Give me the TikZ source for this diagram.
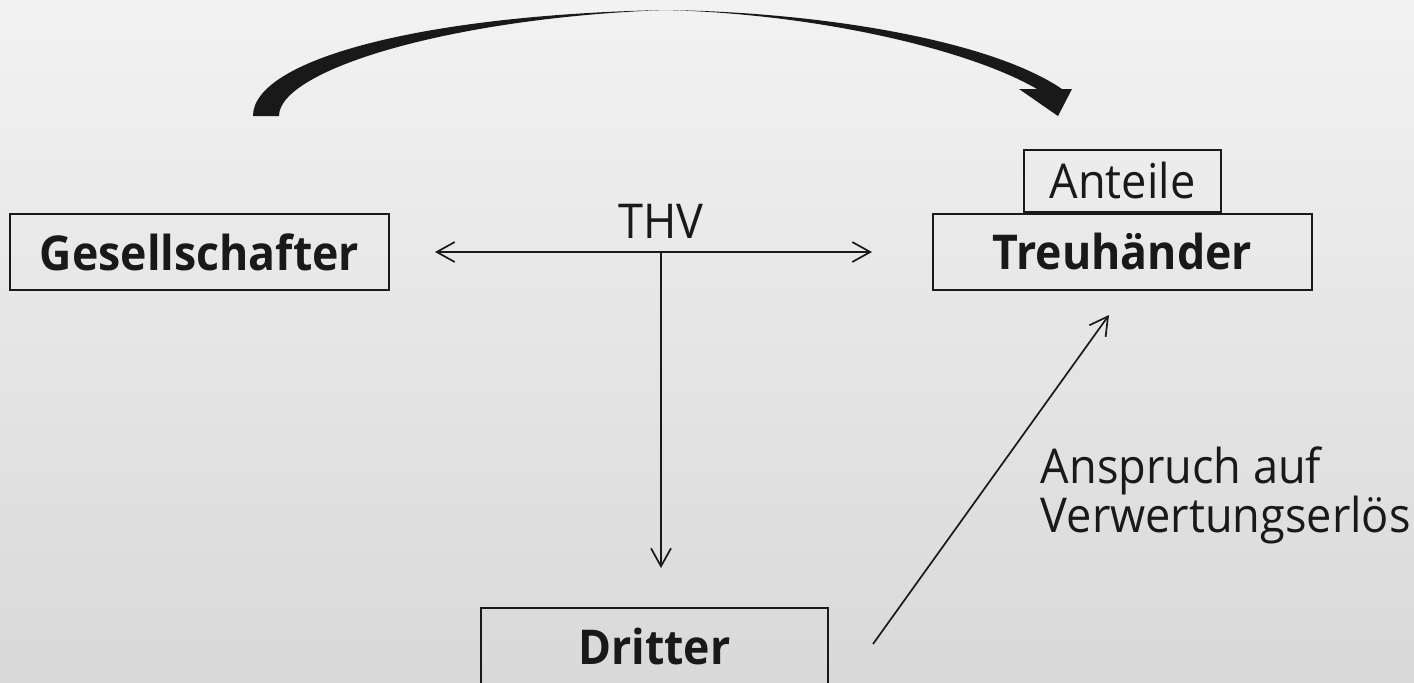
\documentclass[tikz,border=0pt]{standalone}
\usepackage{fontspec}
\setmainfont[FakeStretch=0.94, BoldFeatures={FakeStretch=0.93}]{Open Sans}
\usetikzlibrary{arrows.meta, positioning}

\begin{document}
\begin{tikzpicture}[x=0.5pt, y=-0.5pt, >={Straight Barb[length=9pt, width=10pt]}, line width=0.75pt, every node/.style={font=\fontsize{24}{24.5}\selectfont, text=black!90}]
    % Define styles for boxes, labels and connectors
    \tikzstyle{party} = [draw=black!90, line width=1pt, minimum width=189.5pt, minimum height=38pt, inner sep=0pt, font=\fontsize{24}{29}\selectfont\bfseries]
    \tikzstyle{share} = [draw=black!90, line width=1pt, minimum width=98.5pt, minimum height=31pt, inner sep=0pt]
    \tikzstyle{link} = [draw=black!90, line width=0.85pt]

    % Background
    \shade[top color=gray!10, bottom color=gray!30] (0,0) rectangle (1414,682);
    \useasboundingbox (0,0) rectangle (1414,682);

    % Nodes placement
    \node [party] (gesell) at (199.5,252) {Gesellschafter};
    \node [party] (treu) at (1122.5,251.5) {Treuhänder};
    \node [share, above=0pt of treu] (anteile) {Anteile};
    \node [party, minimum width=173.5pt, anchor=north] (dritter) at (654.5,607) {Dritter};
    \node [anchor=base west, align=left, inner sep=0pt] (anspruch) at (1040,532) {Anspruch auf\\Verwertungserlös};

    \coordinate (thvL) at (435,252);
    \coordinate (thvR) at (872,252);
    \coordinate (thv) at (661,252);
    \coordinate (thvdown) at (661,568);
    \coordinate (claimfrom) at (873,644);
    \coordinate (claimto) at (1109,315);
    \node [above=6.5pt of thv, inner sep=0pt] (thvlabel) {THV};

    % Draw edges
    \draw [link, <->] (thvL) -- (thvR);
    \draw [link, ->] (thv) -- (thvdown);
    \draw [link, ->] (claimfrom) -- (claimto);

    % Transfer of the shares, tapered arrow on top
    \fill [black!90] (253,116) .. controls (253,60) and (420,15) .. (665,10)
        .. controls (820,12) and (990,40) .. (1062,89) -- (1072,89) -- (1058,116) -- (1019,89) -- (1037,89)
        .. controls (970,50) and (820,14) .. (665,10)
        .. controls (450,18) and (279,70) .. (279,116) -- cycle;
\end{tikzpicture}
\end{document}
